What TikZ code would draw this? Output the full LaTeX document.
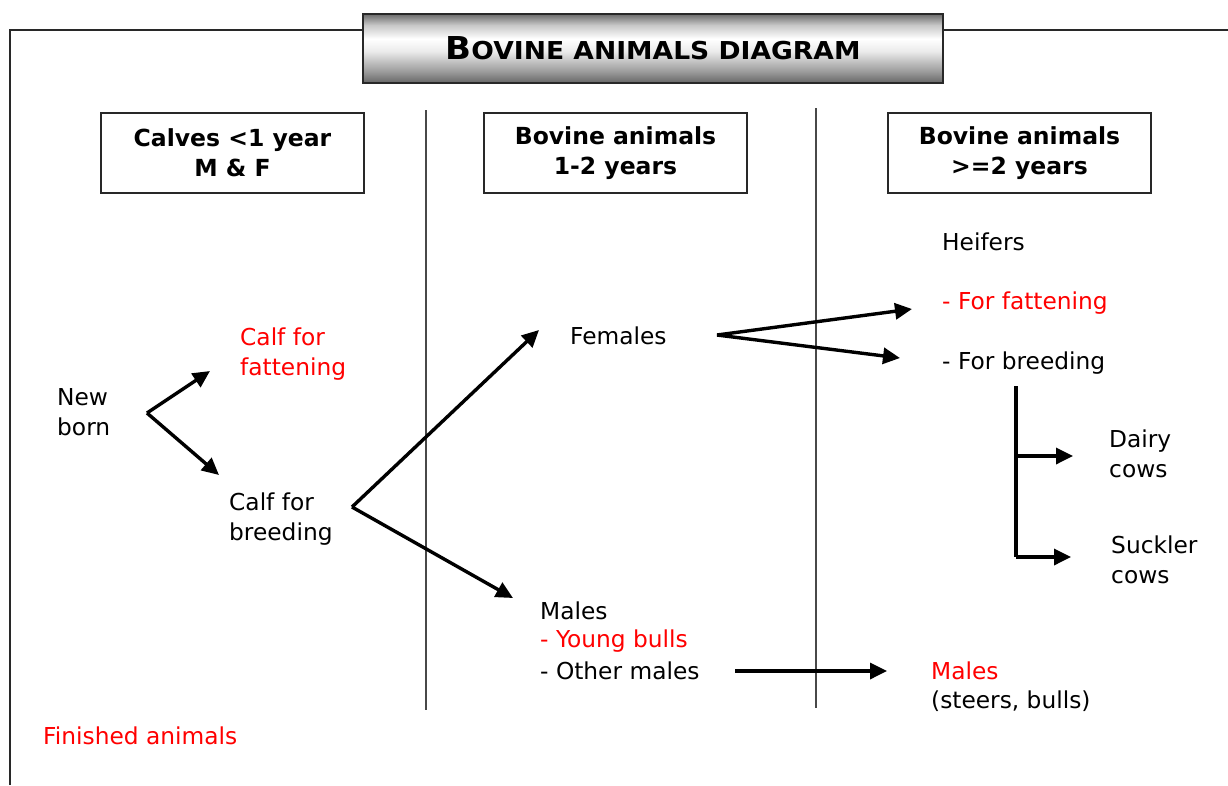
\documentclass[tikz,border=0pt]{standalone}
\usepackage{fontspec}
\setmainfont{DejaVu Sans}
\usetikzlibrary{arrows.meta}
\definecolor{redtxt}{RGB}{255,0,0}
\definecolor{linegray}{RGB}{40,40,40}
% visible part of a TikZ shading: 25bp (bottom) .. 75bp (top)
\pgfdeclareverticalshading{titleshade}{100bp}{color(0bp)=(black!62); color(25bp)=(black!60); color(33bp)=(black!40); color(48bp)=(black!8); color(57bp)=(white); color(67bp)=(black!22); color(75bp)=(black!58); color(100bp)=(black!58)}
\tikzset{
  frame/.style={draw=linegray, line width=2.6pt},
  divider/.style={draw=linegray!85, line width=2pt},
  hdr/.style={draw=linegray, line width=2pt, minimum width=263pt, minimum height=80pt, anchor=north west, align=center, font=\fontsize{23.5}{30}\selectfont\bfseries},
  txt/.style={anchor=west, align=left, inner sep=0pt, font=\fontsize{23.3}{30}\selectfont},
  redt/.style={txt, text=redtxt},
  arr/.style={-{Triangle[length=17pt,width=16pt]}, line width=3.4pt, black},
  bar/.style={line width=3.4pt, black}
}
\begin{document}
\begin{tikzpicture}[x=1pt,y=-1pt]
\useasboundingbox (0,0) rectangle (1228,785);
% outer frame
\coordinate (ftl) at (10,30);
\coordinate (ftr) at (1228,30);
\coordinate (fbl) at (10,785);
\draw[frame] (fbl) -- (ftl) -- (ftr);
% title
\shade[shading=titleshade, draw=linegray, line width=2pt] (363,14) rectangle (943,83);
\node[inner sep=0pt] (title) at (653,48) {\resizebox{415pt}{23pt}{\bfseries{\fontsize{32}{32}\selectfont B}{\fontsize{25}{25}\selectfont OVINE ANIMALS DIAGRAM}}};
% dividers
\coordinate (d1t) at (426,110); \coordinate (d1b) at (426,710);
\coordinate (d2t) at (816,108); \coordinate (d2b) at (816,708);
\draw[divider] (d1t) -- (d1b);
\draw[divider] (d2t) -- (d2b);
% headers
\node[hdr] (h1) at (100,112) {Calves <1 year\\M \& F};
\node[hdr] (h2) at (483,112) {Bovine animals\\1-2 years};
\node[hdr] (h3) at (887,112) {Bovine animals\\>=2 years};
% texts
\node[txt] (newborn) at (57,412) {New\\born};
\node[redt] (cfat) at (240,354) {Calf for\\fattening};
\node[txt] (cbreed) at (229,519) {Calf for\\breeding};
\node[txt] (fem) at (570,336) {Females};
\node[txt] (males) at (540,611) {Males};
\node[redt] (ybulls) at (540,641) {- Young bulls};
\node[txt] (omales) at (540,671) {- Other males};
\node[txt] (heif) at (942,242) {Heifers};
\node[redt] (hfat) at (942,303) {- For fattening};
\node[txt] (hbreed) at (942,363) {- For breeding};
\node[txt] (dairy) at (1109,454) {Dairy\\cows};
\node[txt] (suck) at (1111,560) {Suckler\\cows};
\node[redt] (males2) at (931,671) {Males};
\node[txt] (steers) at (931,701) {(steers, bulls)};
\node[redt] (fin) at (43,736) {Finished animals};
% arrow coordinates
\coordinate (f1) at (147,413);
\coordinate (f1a) at (210,371);
\coordinate (f1b) at (219,475);
\coordinate (f2) at (352,507);
\coordinate (f2a) at (539,330);
\coordinate (f2b) at (513,598);
\coordinate (f3) at (717,335);
\coordinate (f3a) at (912,309);
\coordinate (f3b) at (900,358);
\coordinate (b1) at (1016,386);
\coordinate (b2) at (1016,456);
\coordinate (b3) at (1016,557);
\coordinate (b2e) at (1073,456);
\coordinate (b3e) at (1071,557);
\coordinate (m1) at (735,671);
\coordinate (m2) at (887,671);
% arrows
\draw[arr] (f1) -- (f1a);
\draw[arr] (f1) -- (f1b);
\draw[arr] (f2) -- (f2a);
\draw[arr] (f2) -- (f2b);
\draw[arr] (f3) -- (f3a);
\draw[arr] (f3) -- (f3b);
\draw[bar] (b1) -- (b3);
\draw[arr] (b2) -- (b2e);
\draw[arr] (b3) -- (b3e);
\draw[arr] (m1) -- (m2);
\end{tikzpicture}
\end{document}
